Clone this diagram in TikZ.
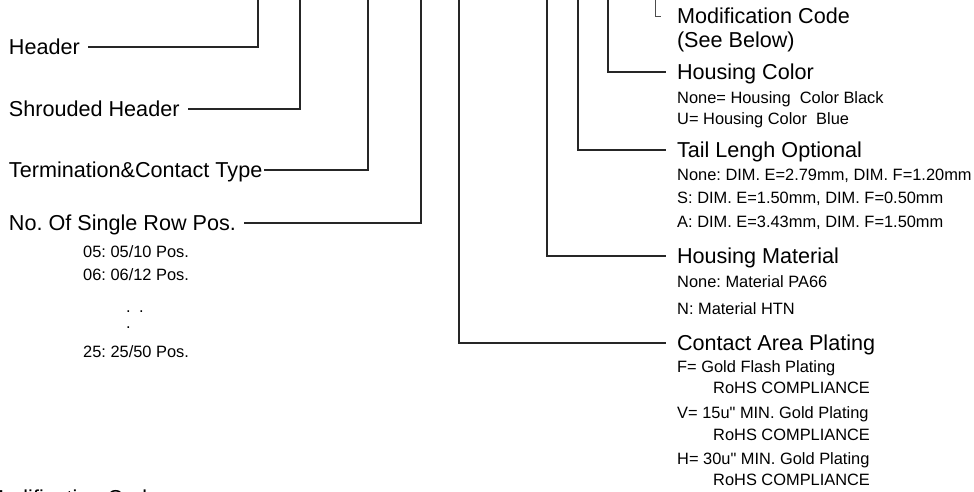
\documentclass[tikz,border=0pt]{standalone}
\usepackage{fontspec}
\setmainfont{Liberation Sans}[Ligatures=TeXOff]
\frenchspacing

\begin{document}
\begin{tikzpicture}
[x=1pt,y=-1pt,%
  lineDecorate/.style={-,line width=1.1pt,black!85},%
  tickDecorate/.style={-,line width=0.7pt,black!70},%
  titleDecorate/.style={inner sep=0pt,anchor=west,font=\fontsize{21.6}{26}\selectfont,text height=15.5pt,text depth=0pt},%
  leftDecorate/.style={titleDecorate,outer xsep=#1},%
  rightDecorate/.style={titleDecorate,outer xsep=11pt},%
  noteDecorate/.style={inner sep=0pt,anchor=west,font=\fontsize{16.4}{20}\selectfont,text height=11.7pt,text depth=0pt}]
\useasboundingbox (0,0) rectangle (974,492);
\clip (0,0) rectangle (974,492);
%% top ends of the leaders
\foreach \nodename/\x in {tHeader/258, tShroud/300, tTerm/368, tRows/421,
  tPlate/459, tMat/547, tTail/578, tColor/608, tMod/655}
{
  \coordinate (\nodename) at (\x,-2);
}
%% left titles
\foreach \nodename/\x/\y/\gap/\label in {
  header/1/47/8pt/Header, shroud/1/109/8pt/Shrouded Header,
  term/7/170/2pt/Termination\&Contact Type, rows/1/223/8pt/No. Of Single Row Pos.}
{
  \node (\nodename) at (\x,\y) [leftDecorate=\gap] {\label};
}
\node (n05) at (83,252) [noteDecorate] {05: 05/10 Pos.};
\node (n06) at (83,275) [noteDecorate] {06: 06/12 Pos.};
\node (dotsA) at (126,307) [noteDecorate] {.\hspace{8.4pt}.};
\node (dotsB) at (126,323) [noteDecorate] {.};
\node (n25) at (83,352) [noteDecorate] {25: 25/50 Pos.};
%% right titles
\foreach \nodename/\y/\label in {
  mod/16/Modification Code, color/72/Housing Color, tail/150/Tail Lengh Optional,
  mat/256/Housing Material, plate/343/Contact Area Plating}
{
  \node (\nodename) at (666,\y) [rightDecorate] {\label};
}
\node (below) at (666,40) [rightDecorate] {(See Below)};
%% right notes
\foreach \nodename/\x/\y/\label in {
  c1/677/98/{None= Housing~ Color Black}, c2/677/119/{U= Housing Color~ Blue},
  t1/677/175/{None: DIM. E=2.79mm, DIM. F=1.20mm},
  t2/677/198/{S: DIM. E=1.50mm, DIM. F=0.50mm},
  t3/677/222/{A: DIM. E=3.43mm, DIM. F=1.50mm},
  m1/677/282/{None: Material PA66}, m2/677/309/{N: Material HTN},
  p1/677/367/{F= Gold Flash Plating}, p2/713/388/{RoHS COMPLIANCE},
  p3/677/413/{V= 15u" MIN. Gold Plating}, p4/713/435/{RoHS COMPLIANCE},
  p5/677/459/{H= 30u" MIN. Gold Plating}, p6/713/480/{RoHS COMPLIANCE}}
{
  \node (\nodename) at (\x,\y) [noteDecorate] {\label};
}
\node (modcode) at (-14,498) [titleDecorate] {Modification Code};
%% leaders
\foreach \startnode/\endnode in {tHeader/header.east, tShroud/shroud.east,
  tTerm/term.east, tRows/rows.east, tPlate/plate.west, tMat/mat.west,
  tTail/tail.west, tColor/color.west}
{
  \draw[lineDecorate] (\startnode) |- (\endnode);
}
\draw[tickDecorate] (tMod) |- ([xshift=-5pt]mod.west);
\end{tikzpicture}
\end{document}
